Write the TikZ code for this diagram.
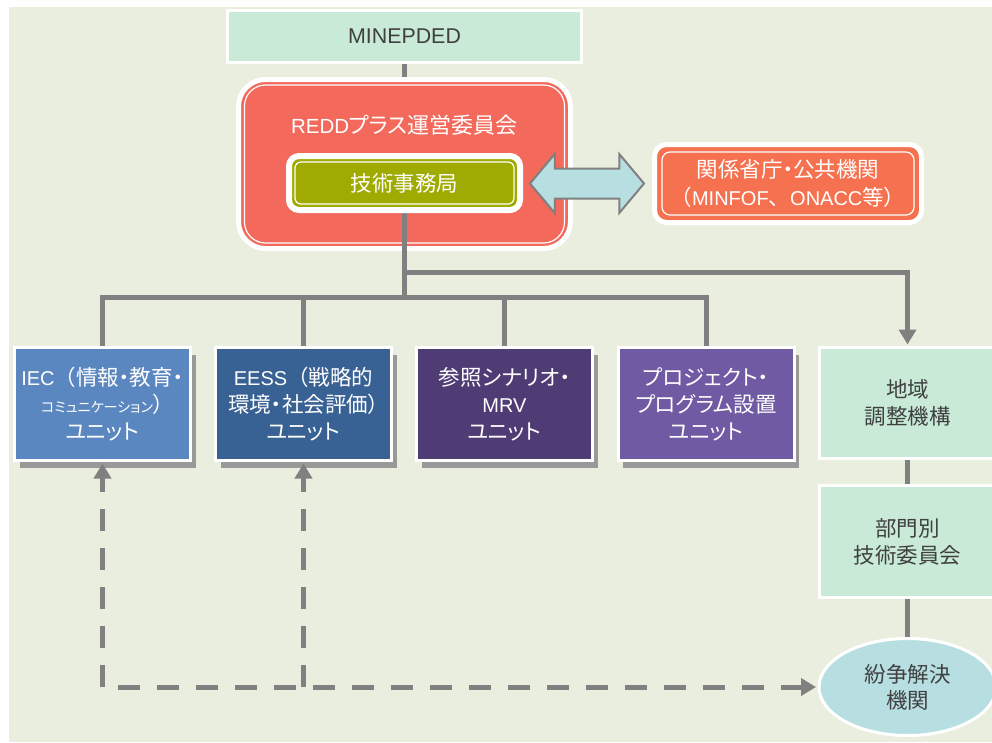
\documentclass[tikz,border=0pt]{standalone}
\usepackage{fontspec}
\setmainfont{Noto Sans CJK JP}[RawFeature=+palt]
\newfontfamily\lat[Scale=0.93]{Liberation Sans}
\newcommand{\fw}[1]{{\addfontfeature{RawFeature=-palt}#1}}
\usetikzlibrary{arrows.meta,shapes.geometric,shapes.arrows,shadows}
\definecolor{bgc}{HTML}{EAEEDF}
\definecolor{mint}{HTML}{C8EAD7}
\definecolor{comred}{HTML}{F3695B}
\definecolor{olive}{HTML}{9FAB00}
\definecolor{minorange}{HTML}{F6714F}
\definecolor{iecblue}{HTML}{5B87C0}
\definecolor{eessblue}{HTML}{386194}
\definecolor{refpurple}{HTML}{4F3C74}
\definecolor{projpurple}{HTML}{705AA3}
\definecolor{lightcyan}{HTML}{B7DFE1}
\definecolor{conngray}{HTML}{808080}
\definecolor{shadowgray}{HTML}{999999}
\definecolor{darktext}{HTML}{404040}
\pgfdeclarelayer{back}
\pgfdeclarelayer{mid}
\pgfsetlayers{back,mid,main}
\tikzset{
  basefont/.style={font={\fontsize{21.5}{27}\selectfont}, align=center, inner sep=0pt},
  mintbox/.style={basefont, rectangle, fill=mint, draw=white, line width=3pt, text=darktext},
  unitbox/.style={basefont, font={\fontsize{21.5}{27}\selectfont}, rectangle, draw=white, line width=3pt, text=white,
     minimum width=176pt, minimum height=113pt,
     drop shadow={shadow xshift=5pt, shadow yshift=-7pt, fill=shadowgray, opacity=1}},
  conn/.style={draw=conngray, line width=5pt, line join=miter},
  tipa/.style={-{Triangle[width=17pt,length=15pt]}},
  dashconn/.style={draw=conngray, line width=5pt, dash pattern=on 22pt off 17pt, tipa, shorten >=1.5pt},
  innerline/.style={draw=white, line width=1.2pt}
}
\begin{document}
\begin{tikzpicture}[x=1pt,y=-1pt]
\path[use as bounding box] (0,0) rectangle (992,742);
\clip (0,0) rectangle (992,742);
\begin{pgfonlayer}{back}
\fill[bgc] (9,7) rectangle (992,742);
\end{pgfonlayer}

% top box
\node[mintbox, minimum width=354pt, minimum height=52pt] (minepded) at (404.5,36.5) {\fontsize{23}{27}\selectfont\lat MINEPDED};

% committee
\begin{pgfonlayer}{back}
\node[rectangle, rounded corners=27pt, fill=comred, draw=white, line width=5pt, minimum width=332pt, minimum height=169pt] (com) at (404.5,164) {};
\draw[innerline, rounded corners=21pt] (244.5,85) rectangle (564.5,243);
\end{pgfonlayer}
\node[basefont, font={\fontsize{22}{27}\selectfont}, text=white] (comtitle) at (404.5,125) {{\lat REDD}プラス運営委員会};

% secretariat
\node[basefont, rectangle, rounded corners=10pt, fill=olive, draw=white, line width=6pt, text=white, minimum width=231pt, minimum height=54pt] (sec) at (404.5,183) {技術事務局};
\draw[innerline, rounded corners=6pt] (295,162) rectangle (514,204);

% ministries
\node[basefont, font={\fontsize{21.5}{28}\selectfont}, rectangle, rounded corners=12pt, fill=minorange, draw=white, line width=5pt, text=white, minimum width=267pt, minimum height=78pt] (mins) at (788,183.5) {関係省庁・公共機関\\\fw{（}{\lat MINFOF}\fw{、}{\lat ONACC}等\fw{）}};
\draw[innerline, rounded corners=8pt] (662,152) rectangle (914,215);

% double arrow
\node[double arrow, draw=conngray, line width=2pt, fill=lightcyan, inner sep=0pt, minimum height=114pt, double arrow head extend=14.5pt, double arrow tip angle=100] (dbl) at (587,183.5) {\rule{0pt}{28pt}};

% units
\node[unitbox, fill=iecblue] (iec) at (102.5,404) {{\lat IEC}\fw{（}情報・教育・\\{\fontsize{14}{27}\selectfont コミュニケーション}）\\ユニット};
\node[unitbox, fill=eessblue] (eess) at (303.5,404) {{\lat EESS}\fw{（}戦略的\\環境・社会評価）\\ユニット};
\node[unitbox, fill=refpurple] (ref) at (504.5,404) {参照シナリオ・\\{\lat MRV}\\ユニット};
\node[unitbox, fill=projpurple] (proj) at (706,404) {プロジェクト・\\プログラム設置\\ユニット};

% right column
\node[mintbox, minimum width=176pt, minimum height=111pt] (region) at (907.5,403) {地域\\調整機構};
\node[mintbox, minimum width=176pt, minimum height=112pt] (dept) at (907.5,541.5) {部門別\\技術委員会};
\node[basefont, font={\fontsize{21.5}{26}\selectfont}, ellipse, fill=lightcyan, draw=white, line width=3pt, text=darktext, minimum width=177pt, minimum height=97pt] (disp) at (907.5,687) {紛争解決\\機関};

% connectors
\coordinate (j1) at (404.5,297);
\coordinate (j2) at (404.5,272);
\coordinate (d1) at (102.5,687);
\coordinate (d2) at (303.5,687);
\coordinate (d3) at (118,687);
\begin{pgfonlayer}{mid}
\draw[conn] (minepded.south) -- (com.north);
\draw[conn] (sec.south) -- (j1);
\draw[conn] (iec.north) -- (iec.north |- j1) -- (proj.north |- j1) -- (proj.north);
\draw[conn] (eess.north) -- (eess.north |- j1);
\draw[conn] (ref.north) -- (ref.north |- j1);
\draw[conn, tipa, shorten >=1.5pt] (j2) -| (region.north);
\draw[conn] (region.south) -- (dept.north);
\draw[conn] (dept.south) -- (disp.north);
\end{pgfonlayer}
\draw[dashconn] (d1) -- (iec.south);
\draw[dashconn] (d2) -- (eess.south);
\draw[dashconn] (d3) -- (disp.west);
\end{tikzpicture}
\end{document}
